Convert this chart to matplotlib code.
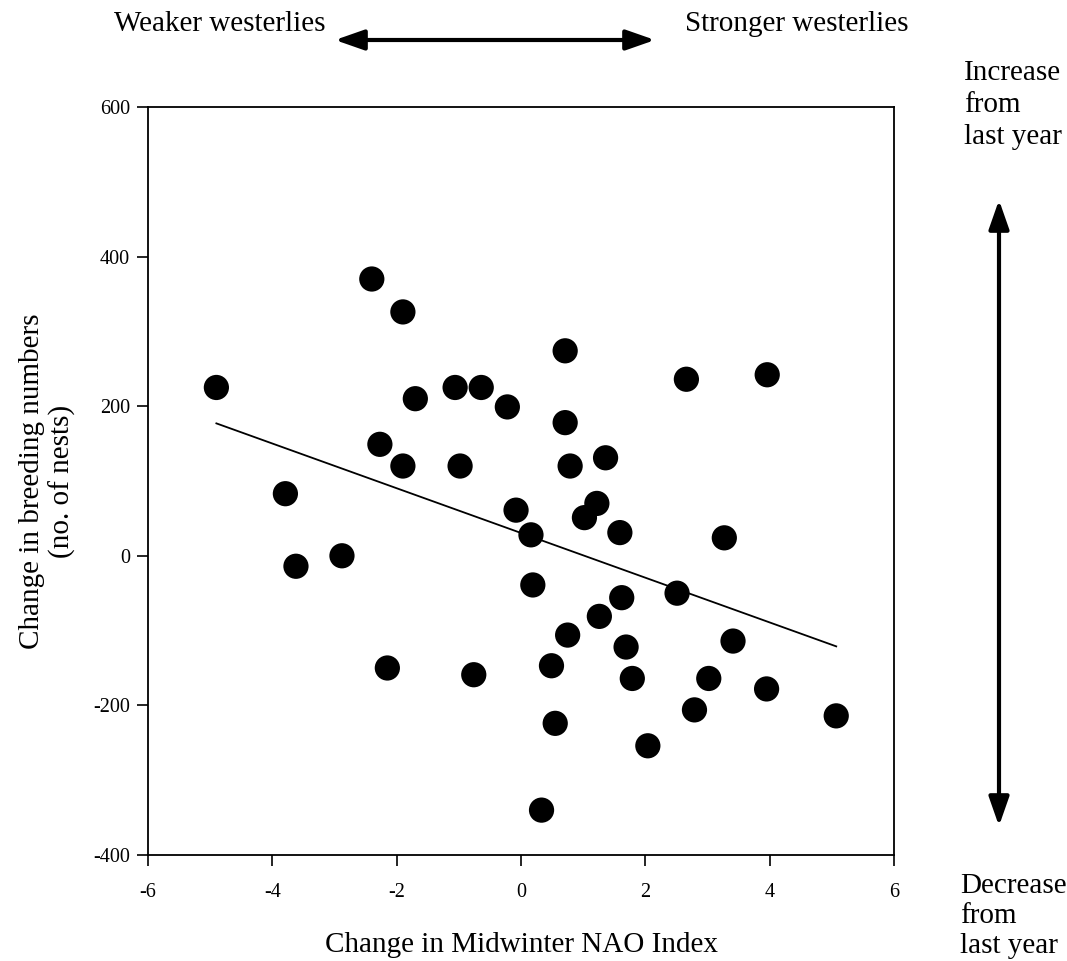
import numpy as np
import matplotlib
matplotlib.use('Agg')
import matplotlib.pyplot as plt
from matplotlib.patches import FancyArrowPatch

# change in midwinter NAO index vs change in nest numbers
nao_change = [-4.90, -2.40, -1.90, -1.70, -1.06, -0.64, -0.22, -2.27, -1.90, -0.98,
              -3.79, -0.08, 0.16, -3.62, -2.88, -2.15, -0.76, 0.19, 0.71, 2.66,
              3.96, 0.71, 0.79, 1.36, 1.22, 1.02, 1.59, 3.27, 1.62, 2.51,
              1.26, 0.75, 0.49, 1.69, 1.79, 3.02, 3.41, 3.95, 2.79, 5.07,
              0.55, 2.04, 0.33]
nest_change = [225, 370, 326, 210, 225, 225, 199, 149, 120, 120,
               83, 61, 28, -14, 0, -150, -159, -39, 274, 236,
               242, 178, 120, 131, 70, 51, 31, 24, -56, -50,
               -81, -106, -147, -122, -164, -164, -114, -178, -206, -214,
               -224, -254, -340]

# regression line as printed on the figure
fit_slope = -29.9
fit_intercept = 30.5

x_ticks = [-6, -4, -2, 0, 2, 4, 6]
y_ticks = [-400, -200, 0, 200, 400, 600]

plt.rcParams['font.family'] = ['Liberation Serif', 'DejaVu Serif']
plt.rcParams['axes.unicode_minus'] = False

fig = plt.figure(figsize=(10.67, 9.61), dpi=100)
ax = fig.add_axes([0.1387, 0.1103, 0.6992, 0.7784])

x = np.array(nao_change)
y = np.array(nest_change)
ax.scatter(x, y, s=330, c='black', edgecolors='none', zorder=3)

xl = np.array([x.min(), x.max()])
ax.plot(xl, fit_slope * xl + fit_intercept, color='black', lw=1.3, zorder=2)

ax.set_xlim(-6, 6)
ax.set_ylim(-400, 600)
ax.set_xticks(x_ticks)
ax.set_yticks(y_ticks)
ax.tick_params(direction='out', length=8, width=1.2, labelsize=14.5, pad=5)
ax.tick_params(axis='x', pad=12)
for s in ax.spines.values():
    s.set_linewidth(1.3)

ax.set_xlabel('Change in Midwinter NAO Index', fontsize=21, labelpad=22)
ax.set_ylabel('Change in breeding numbers\n(no. of nests)', fontsize=21, labelpad=12,
              linespacing=1.2)

fig.text(220 / 1067, 1 - 24 / 961, 'Weaker westerlies', fontsize=21, ha='center', va='center')
fig.text(797 / 1067, 1 - 24 / 961, 'Stronger westerlies', fontsize=21, ha='center', va='center')
fig.text(964 / 1067, 1 - 105 / 961, 'Increase\nfrom\nlast year', fontsize=21,
         ha='left', va='center', linespacing=1.3)
fig.text(960 / 1067, 1 - 916 / 961, 'Decrease\nfrom\nlast year', fontsize=21,
         ha='left', va='center', linespacing=1.2)

arrow = dict(arrowstyle='<|-|>,head_length=0.8,head_width=0.28', color='black', lw=3,
             mutation_scale=22, shrinkA=0, shrinkB=0)
fig.add_artist(FancyArrowPatch((335 / 1067, 1 - 40 / 961), (655 / 1067, 1 - 40 / 961),
                               transform=fig.transFigure, **arrow))
fig.add_artist(FancyArrowPatch((999 / 1067, 1 - 200 / 961), (999 / 1067, 1 - 826 / 961),
                               transform=fig.transFigure, **arrow))

fig.savefig('out.png', dpi=100, facecolor='white')
